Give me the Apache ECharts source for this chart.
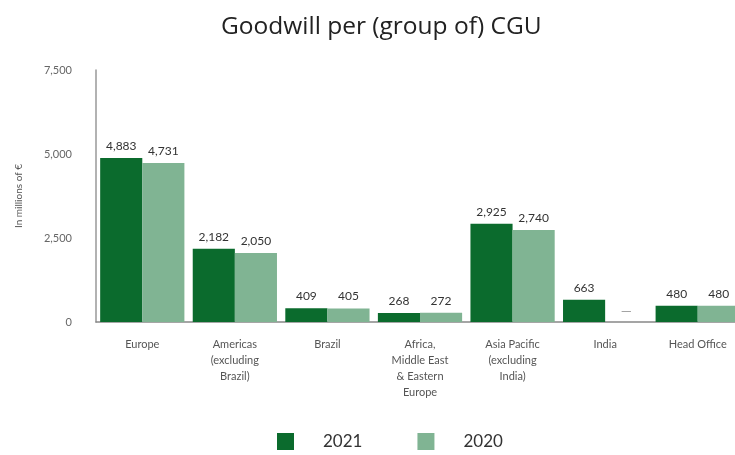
<!DOCTYPE html>
<html>
<head>
<meta charset="utf-8">
<script src="https://cdn.jsdelivr.net/npm/echarts@6/dist/echarts.min.js"></script>
<style>
  html, body { margin: 0; padding: 0; background: #fff; }
  #main { width: 735px; height: 455px; }
</style>
</head>
<body>
<div id="main"></div>
<script>
var chartDom = document.getElementById('main');
var myChart = echarts.init(chartDom);
var option;

var categories = ['Europe', 'Americas\n(excluding\nBrazil)', 'Brazil', 'Africa,\nMiddle East\n& Eastern\nEurope', 'Asia Pacific\n(excluding\nIndia)', 'India', 'Head Office'];
var values2021 = [4883, 2182, 409, 268, 2925, 663, 480];
// India 2020 is shown as a dash in the source
var values2020 = [4731, 2050, 405, 272, 2740, null, 480];
var yTicks = [0, 2500, 5000, 7500];

var fontFam = 'Lato, "Open Sans", sans-serif';

var lightData = values2020.map(function (v) {
    if (v === null) {
        return {
            value: 0,
            label: { show: true, formatter: '—', color: '#999', fontSize: 14, distance: 4 }
        };
    }
    return v;
});

option = {
    textStyle: { fontFamily: fontFam },
    title: {
        text: 'Goodwill per (group of) CGU',
        left: 216,
        top: 10,
        textStyle: { fontSize: 24.5, fontWeight: 'normal', color: '#222', fontFamily: '"Open Sans", sans-serif' }
    },
    legend: {
        bottom: 0,
        left: 272,
        itemWidth: 17,
        itemHeight: 17,
        itemGap: 55,
        icon: 'rect',
        textStyle: { fontSize: 17, color: '#333', padding: [0, 0, 0, 24] },
        data: ['2021', '2020']
    },
    grid: { left: 96, width: 648, top: 70, bottom: 133, outerBoundsMode: 'none', containLabel: false },
    xAxis: {
        type: 'category',
        data: categories,
        axisLine: { lineStyle: { color: '#888', width: 1.5 } },
        axisTick: { show: false },
        axisLabel: { color: '#555', fontSize: 11, lineHeight: 16, margin: 14, interval: 0 }
    },
    yAxis: {
        type: 'value',
        min: 0,
        max: 7500,
        interval: 2500,
        name: 'In millions of €',
        nameLocation: 'middle',
        nameGap: 72,
        nameTextStyle: { color: '#555', fontSize: 10 },
        axisLine: { show: true, lineStyle: { color: '#999', width: 1.5 } },
        axisTick: { show: false },
        splitLine: { show: false },
        axisLabel: {
            color: '#666', fontSize: 11, margin: 24,
            formatter: function (v) { return yTicks.indexOf(v) >= 0 ? v.toLocaleString('en-US') : ''; }
        }
    },
    series: [
        {
            name: '2021',
            type: 'bar',
            data: values2021,
            barGap: '0%',
            barCategoryGap: '9%',
            itemStyle: { color: '#0b6b2d' },
            label: {
                show: true, position: 'top', distance: 6, color: '#333', fontSize: 12,
                formatter: function (p) { return p.value.toLocaleString('en-US'); }
            }
        },
        {
            name: '2020',
            type: 'bar',
            data: lightData,
            barGap: '0%',
            barCategoryGap: '9%',
            itemStyle: { color: '#80b493' },
            label: {
                show: true, position: 'top', distance: 6, color: '#333', fontSize: 12,
                formatter: function (p) { return p.value.toLocaleString('en-US'); }
            }
        }
    ]
};

option && myChart.setOption(option);
</script>
</body>
</html>
